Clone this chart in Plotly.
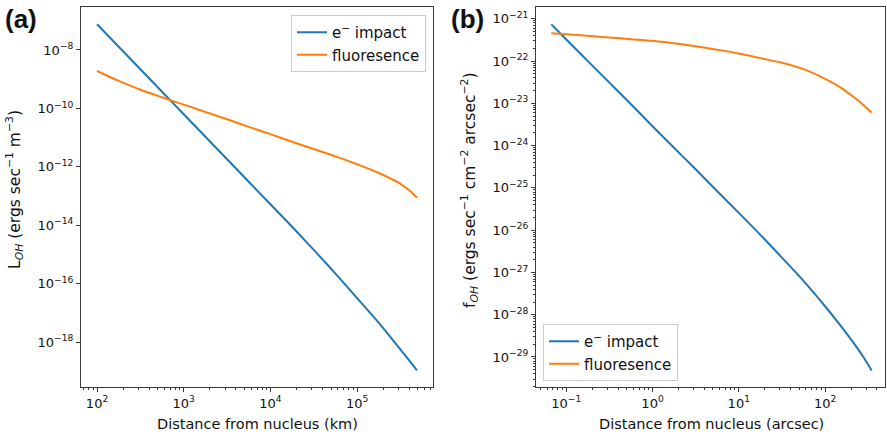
import plotly.graph_objects as go

# ---------------- data ----------------
dist_km = [100, 177.8, 316.2, 562.3, 1000, 1778, 3162, 5623, 10000, 17780, 31620, 56230,
           100000, 177800, 316200, 398100, 489800]
L_eimpact = [7.586e-8, 1.288e-8, 2.188e-9, 3.715e-10, 6.310e-11, 1.072e-11, 1.820e-12, 3.090e-13,
             5.248e-14, 8.913e-15, 1.445e-15, 2.239e-16, 3.236e-17, 4.571e-18, 5.623e-19,
             2.399e-19, 1.096e-19]
L_fluor = [1.905e-9, 8.710e-10, 4.365e-10, 2.399e-10, 1.349e-10, 7.586e-11, 4.266e-11, 2.344e-11,
           1.318e-11, 7.244e-12, 4.074e-12, 2.291e-12, 1.230e-12, 6.166e-13, 2.630e-13,
           1.585e-13, 8.913e-14]

dist_arcsec = [0.067, 0.1, 0.1778, 0.3162, 0.5623, 1, 1.778, 3.162, 5.623, 10, 17.78, 31.62,
               56.23, 100, 158.5, 223.9, 281.8, 346.7]
f_eimpact = [7.413e-22, 3.236e-22, 1.0e-22, 3.090e-23, 9.550e-24, 2.884e-24, 8.913e-25, 2.754e-25,
             8.318e-26, 2.570e-26, 7.762e-27, 2.239e-27, 6.310e-28, 1.585e-28, 4.898e-29,
             1.905e-29, 9.550e-30, 4.786e-30]
f_fluor = [4.571e-22, 4.315e-22, 3.981e-22, 3.631e-22, 3.311e-22, 3.020e-22, 2.630e-22, 2.239e-22,
           1.862e-22, 1.514e-22, 1.175e-22, 9.120e-23, 6.457e-23, 3.802e-23, 2.239e-23,
           1.318e-23, 8.913e-24, 6.026e-24]

series_names = ["e<sup>\u2212</sup> impact", "fluoresence"]
colors = ["#1f77b4", "#ff7f0e"]

xa_tick_exp = [2, 3, 4, 5]
ya_tick_exp = [-8, -10, -12, -14, -16, -18]
xb_tick_exp = [-1, 0, 1, 2]
yb_tick_exp = [-21, -22, -23, -24, -25, -26, -27, -28, -29]


def pw(e):
    s = str(e).replace("-", "\u2212")
    return "10<sup>" + s + "</sup>"


def minors(lo, hi):
    out = []
    for d in range(lo, hi + 1):
        for k in range(2, 10):
            out.append(k * 10.0 ** d)
    return out


W, H = 887, 436
def px_x(p):
    return p / W
def px_y(p):
    return 1 - p / H

FONT = "DejaVu Sans"
AX = "#3a3a3a"
TXT = "#111111"

fig = go.Figure()

for vals, name, c in zip([L_eimpact, L_fluor], series_names, colors):
    fig.add_trace(go.Scatter(x=dist_km, y=vals, mode="lines", name=name,
                             line=dict(color=c, width=2, shape="spline", smoothing=1.0,
                                       simplify=False),
                             xaxis="x", yaxis="y", legend="legend"))
for vals, name, c in zip([f_eimpact, f_fluor], series_names, colors):
    fig.add_trace(go.Scatter(x=dist_arcsec, y=vals, mode="lines", name=name,
                             line=dict(color=c, width=2, shape="spline", smoothing=1.0,
                                       simplify=False),
                             xaxis="x2", yaxis="y2", legend="legend2"))

common = dict(type="log", showgrid=False, zeroline=False, showline=True, mirror=True,
              linecolor=AX, linewidth=1.2, ticks="outside", ticklen=4, tickwidth=1,
              tickcolor=AX, tickfont=dict(family=FONT, size=13, color=TXT),
              tickmode="array")

LEGFONT = dict(family=FONT, size=15, color=TXT)

fig.update_layout(
    width=W, height=H,
    margin=dict(l=0, r=0, t=0, b=0),
    paper_bgcolor="white", plot_bgcolor="white",
    xaxis=dict(**common, domain=[px_x(81), px_x(433)], anchor="y",
               range=[1.815, 5.875],
               tickvals=[10.0 ** e for e in xa_tick_exp], ticktext=[pw(e) for e in xa_tick_exp],
               minor=dict(tickmode="array", tickvals=minors(1, 5), ticks="outside",
                          ticklen=2, tickcolor=AX, showgrid=False)),
    yaxis=dict(**common, domain=[px_y(387), px_y(7)], anchor="x",
               range=[-19.53, -6.53],
               tickvals=[10.0 ** e for e in ya_tick_exp], ticktext=[pw(e) for e in ya_tick_exp]),
    xaxis2=dict(**common, domain=[px_x(536), px_x(885)], anchor="y2",
                range=[-1.351, 2.695],
                tickvals=[10.0 ** e for e in xb_tick_exp], ticktext=[pw(e) for e in xb_tick_exp],
                minor=dict(tickmode="array", tickvals=minors(-2, 2), ticks="outside",
                           ticklen=2, tickcolor=AX, showgrid=False)),
    yaxis2=dict(**common, domain=[px_y(387), px_y(7)], anchor="x2",
                range=[-29.71, -20.72],
                tickvals=[10.0 ** e for e in yb_tick_exp], ticktext=[pw(e) for e in yb_tick_exp],
                minor=dict(tickmode="array", tickvals=minors(-30, -21), ticks="outside",
                           ticklen=2, tickcolor=AX, showgrid=False)),
    legend=dict(x=px_x(426), y=px_y(15), xanchor="right", yanchor="top",
                bgcolor="rgba(255,255,255,0.8)", bordercolor="#cccccc", borderwidth=1,
                font=LEGFONT, itemwidth=30, tracegroupgap=0),
    legend2=dict(x=px_x(543), y=px_y(381), xanchor="left", yanchor="bottom",
                 bgcolor="rgba(255,255,255,0.8)", bordercolor="#cccccc", borderwidth=1,
                 font=LEGFONT, itemwidth=30, tracegroupgap=0),
    showlegend=True,
)

def note(text, x, y, size=14.5, angle=0, family=FONT):
    return dict(text=text, x=px_x(x), y=px_y(y), xref="paper", yref="paper",
                xanchor="center", yanchor="middle", textangle=angle,
                showarrow=False, font=dict(family=family, size=size, color=TXT))

ann = [
    note("Distance from nucleus (km)", 257, 424),
    note("Distance from nucleus (arcsec)", 711, 424),
    note("L<sub><i>OH</i></sub> (ergs sec<sup>\u22121</sup> m<sup>\u22123</sup>)", 15, 190,
         size=15.5, angle=-90),
    note("f<sub><i>OH</i></sub> (ergs sec<sup>\u22121</sup> cm<sup>\u22122</sup> arcsec<sup>\u22122</sup>)",
         470, 190, size=15.5, angle=-90),
    note("<b>(a)</b>", 21, 19, size=26, family="Liberation Sans"),
    note("<b>(b)</b>", 467, 19, size=26, family="Liberation Sans"),
]
fig.update_layout(annotations=ann)

fig.write_html("out.html", config={"displayModeBar": False},
               post_script="document.body.style.margin='0px';document.body.style.overflow='hidden';")
